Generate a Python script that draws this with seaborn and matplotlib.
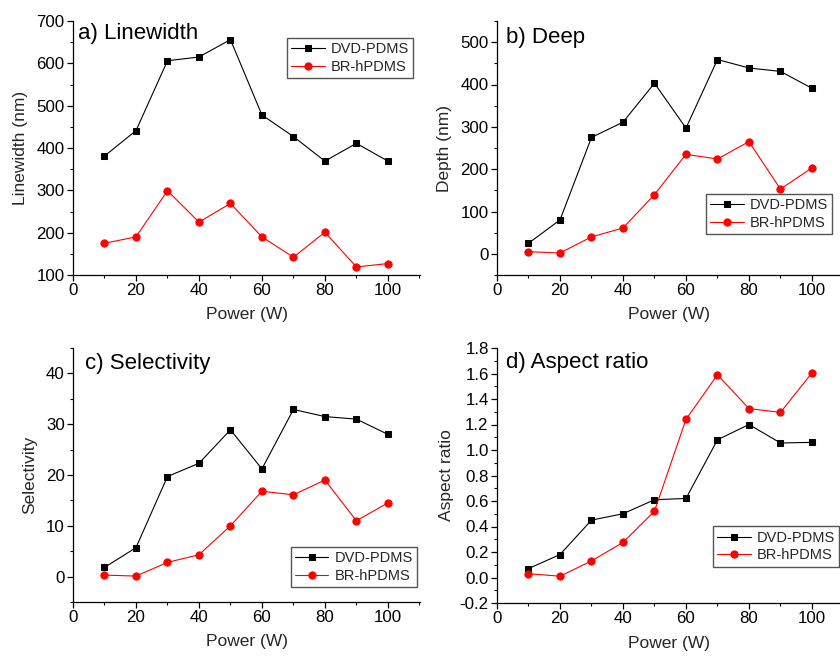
import matplotlib
matplotlib.use("Agg")
import matplotlib.pyplot as plt
from matplotlib.ticker import MultipleLocator
import pandas as pd
import seaborn as sns

power = [10, 20, 30, 40, 50, 60, 70, 80, 90, 100]
series_names = ["DVD-PDMS", "BR-hPDMS"]

linewidth_dvd = [381, 441, 606, 615, 656, 478, 427, 369, 411, 369]
linewidth_br = [175, 190, 299, 225, 269, 190, 142, 201, 119, 127]

depth_dvd = [25, 80, 275, 311, 403, 297, 459, 439, 431, 391]
depth_br = [5, 2, 40, 61, 140, 235, 224, 265, 153, 203]

select_dvd = [1.8, 5.7, 19.7, 22.3, 28.9, 21.2, 32.9, 31.5, 31.0, 28.0]
select_br = [0.3, 0.1, 2.8, 4.3, 10.0, 16.8, 16.1, 19.0, 11.0, 14.5]

aspect_dvd = [0.07, 0.18, 0.45, 0.50, 0.61, 0.62, 1.08, 1.20, 1.055, 1.06]
aspect_br = [0.03, 0.01, 0.13, 0.275, 0.52, 1.24, 1.59, 1.325, 1.295, 1.605]

titles = ["a) Linewidth", "b) Deep", "c) Selectivity", "d) Aspect ratio"]
ylabels = ["Linewidth (nm)", "Depth (nm)", "Selectivity", "Aspect ratio"]

sns.set_theme(style="ticks")
plt.rcParams["font.family"] = ["Liberation Sans", "DejaVu Sans"]

W, H = 840, 660
fig = plt.figure(figsize=(W / 100, H / 100), dpi=100)


def px_axes(left, top, right, bottom):
    return fig.add_axes([left / W, 1 - bottom / H, (right - left) / W, (bottom - top) / H])


panels = [
    dict(box=(73, 21, 420, 275), xlim=(0, 110.2), ylim=(100, 700), major=100, minor=50,
         data=(linewidth_dvd, linewidth_br), title_xy=(0.015, 0.95),
         ylab_x=-0.15, leg=dict(loc="upper right", anchor=(0.98, 0.933))),
    dict(box=(497, 21, 840, 275), xlim=(0, 108.9), ylim=(-50, 550), major=100, minor=50,
         data=(depth_dvd, depth_br), title_xy=(0.026, 0.937),
         ylab_x=-0.152, leg=dict(loc="lower right", anchor=(0.977, 0.161))),
    dict(box=(73, 348, 420, 602), xlim=(0, 110.2), ylim=(-5, 45), major=10, minor=5,
         data=(select_dvd, select_br), title_xy=(0.035, 0.94),
         ylab_x=-0.124, leg=dict(loc="lower right", anchor=(0.991, 0.059))),
    dict(box=(497, 348, 840, 603), xlim=(0, 108.9), ylim=(-0.2, 1.8), major=0.2, minor=0.1,
         data=(aspect_dvd, aspect_br), title_xy=(0.026, 0.945),
         ylab_x=-0.146, leg=dict(loc="lower right", anchor=(0.997, 0.142))),
]

styles = [dict(color="black", marker="s", ms=5.0), dict(color="#ff0000", marker="o", ms=5.2)]

for p, title, ylab in zip(panels, titles, ylabels):
    ax = px_axes(*p["box"])
    for name, vals, st in zip(series_names, p["data"], styles):
        df = pd.DataFrame({"Power": power, "Value": vals})
        sns.lineplot(data=df, x="Power", y="Value", ax=ax, label=name,
                     color=st["color"], marker=st["marker"], markersize=st["ms"],
                     markeredgecolor=st["color"], markerfacecolor=st["color"],
                     linewidth=0.8, clip_on=False)
    ax.set_xlim(*p["xlim"])
    ax.set_ylim(*p["ylim"])
    ax.xaxis.set_major_locator(MultipleLocator(20))
    ax.xaxis.set_minor_locator(MultipleLocator(10))
    ax.yaxis.set_major_locator(MultipleLocator(p["major"]))
    ax.yaxis.set_minor_locator(MultipleLocator(p["minor"]))
    if p["major"] < 1:
        ax.yaxis.set_major_formatter(matplotlib.ticker.FormatStrFormatter("%.1f"))
    sns.despine(ax=ax)
    for s in ("left", "bottom"):
        ax.spines[s].set_linewidth(0.9)
        ax.spines[s].set_color("black")
    ax.tick_params(which="major", direction="out", length=4, width=0.9,
                   labelsize=12.2, colors="black", pad=2)
    ax.tick_params(which="minor", direction="out", length=2.2, width=0.8, colors="black")
    ax.set_xlabel("Power (W)", fontsize=12.5)
    ax.set_ylabel(ylab, fontsize=12.5)
    ax.xaxis.set_label_coords(0.5, -0.157)
    ax.yaxis.set_label_coords(p["ylab_x"], 0.5)
    ax.xaxis.label.set_va("center")
    ax.yaxis.label.set_va("center")
    ax.text(p["title_xy"][0], p["title_xy"][1], title, transform=ax.transAxes,
            fontsize=16, va="center", ha="left", color="black")
    leg = ax.legend(loc=p["leg"]["loc"], bbox_to_anchor=p["leg"]["anchor"],
                    borderaxespad=0, fontsize=10.5, frameon=True, fancybox=False,
                    framealpha=1, edgecolor="#555555", handlelength=2.3,
                    handletextpad=0.4, labelspacing=0.25, borderpad=0.3)
    leg.get_frame().set_linewidth(1.0)
    ax.grid(False)
    ax.set_facecolor("white")

fig.savefig("out.png", dpi=100, facecolor="white")
